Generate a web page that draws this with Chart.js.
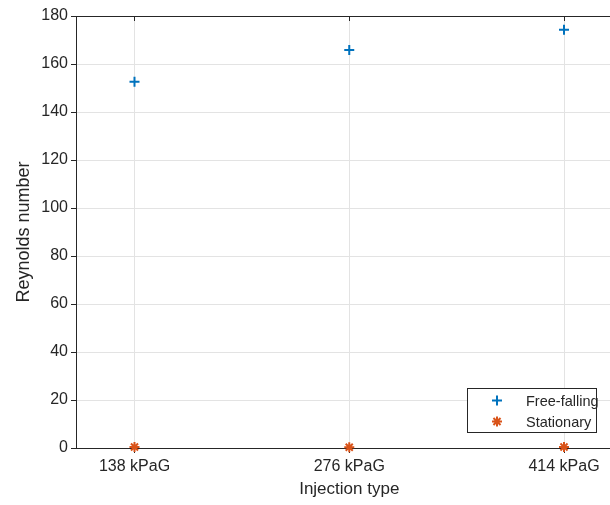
<!DOCTYPE html>
<html>
<head>
<meta charset="utf-8">
<script src="https://cdn.jsdelivr.net/npm/chart.js@4/dist/chart.umd.min.js"></script>
<style>
  html, body { margin: 0; padding: 0; background: #fff; overflow: hidden; }
  canvas { display: block; }
</style>
</head>
<body>
<canvas id="chart" width="640" height="505"></canvas>
<script>
// categories and series values
const INJECTION = ['138 kPaG', '276 kPaG', '414 kPaG'];
const FREE_FALLING = [152.6, 165.8, 174.3];
const STATIONARY = [0.4, 0.3, 0.4];
const Y_TICKS = [0, 20, 40, 60, 80, 100, 120, 140, 160, 180];

const THEME = {
    blue: '#0072BD',
    orange: '#D95319',
    axis: '#262626',
    grid: '#e3e3e3',
    font: "'Liberation Sans', Arial, Helvetica, sans-serif",
};

// box top/right lines, inner ticks on top edge, and matlab-style legend
const boxPlugin = {
    id: 'box',
    afterDraw(chart) {
        const { ctx, chartArea: a, scales } = chart;
        ctx.save();
        ctx.strokeStyle = THEME.axis;
        ctx.lineWidth = 1;
        ctx.beginPath();
        ctx.moveTo(a.left, a.top + 0.5);
        ctx.lineTo(a.right, a.top + 0.5);
        ctx.lineTo(a.right, a.bottom);
        scales.x.ticks.forEach(t => {
            const px = Math.round(scales.x.getPixelForValue(t.value)) + 0.5;
            ctx.moveTo(px, a.top);
            ctx.lineTo(px, a.top + 5);
        });
        ctx.stroke();

        // legend
        const w = 129, h = 44;
        const x0 = a.right - 26.5 - w, y0 = a.bottom - 16 - h;
        ctx.fillStyle = '#fff';
        ctx.fillRect(x0, y0, w, h);
        ctx.strokeRect(Math.round(x0) + 0.5, Math.round(y0) + 0.5, w, h);
        ctx.font = '14.5px ' + THEME.font;
        ctx.textBaseline = 'middle';
        chart.data.datasets.forEach((ds, i) => {
            const cy = y0 + 12.5 + i * 21;
            ctx.strokeStyle = ds.borderColor;
            ctx.fillStyle = ds.borderColor;
            ctx.lineWidth = ds.borderWidth;
            Chart.helpers.drawPoint(ctx, {
                pointStyle: ds.pointStyle,
                radius: ds.pointRadius,
                borderWidth: ds.borderWidth,
                rotation: 0,
            }, x0 + 30, cy);
            ctx.fillStyle = THEME.axis;
            ctx.fillText(ds.label, x0 + 59, cy + 1);
        });
        ctx.restore();
    },
};

new Chart(document.getElementById('chart'), {
    type: 'scatter',
    data: {
        datasets: [
            {
                label: 'Free-falling',
                data: FREE_FALLING.map((v, i) => ({ x: i + 1, y: v })),
                pointStyle: 'cross',
                pointRadius: 5,
                borderWidth: 2,
                borderColor: THEME.blue,
                backgroundColor: THEME.blue,
                clip: false,
            },
            {
                label: 'Stationary',
                data: STATIONARY.map((v, i) => ({ x: i + 1, y: v })),
                pointStyle: 'star',
                pointRadius: 5,
                borderWidth: 2,
                borderColor: THEME.orange,
                backgroundColor: THEME.orange,
                clip: false,
            },
        ],
    },
    options: {
        responsive: false,
        animation: false,
        devicePixelRatio: 1,
        layout: { padding: { top: 16, right: 17.5, left: 0, bottom: 0 } },
        plugins: {
            legend: { display: false },
            tooltip: { enabled: false },
        },
        scales: {
            x: {
                type: 'linear',
                min: 0.7276,
                max: 3.2724,
                afterBuildTicks: (scale) => {
                    scale.ticks = INJECTION.map((_, i) => ({ value: i + 1 }));
                },
                afterFit: (scale) => { scale.height = 57; },
                grid: { color: THEME.grid, tickLength: 5, tickColor: THEME.axis },
                border: { color: THEME.axis },
                ticks: {
                    color: THEME.axis,
                    padding: 4,
                    maxRotation: 0,
                    font: { family: THEME.font, size: 16 },
                    callback: (v) => INJECTION[v - 1],
                },
                title: {
                    display: true,
                    text: 'Injection type',
                    color: THEME.axis,
                    font: { family: THEME.font, size: 17 },
                    padding: { top: 0, bottom: 5 },
                },
            },
            y: {
                min: 0,
                max: 180,
                afterBuildTicks: (scale) => {
                    scale.ticks = Y_TICKS.map(v => ({ value: v }));
                },
                afterFit: (scale) => { scale.width = 76; },
                grid: { color: THEME.grid, tickLength: 5, tickColor: THEME.axis },
                border: { color: THEME.axis },
                ticks: {
                    color: THEME.axis,
                    padding: 3,
                    font: { family: THEME.font, size: 16 },
                },
                title: {
                    display: true,
                    text: 'Reynolds number',
                    color: THEME.axis,
                    font: { family: THEME.font, size: 18 },
                    padding: { top: 13, bottom: 0 },
                },
            },
        },
    },
    plugins: [boxPlugin],
});
</script>
</body>
</html>
